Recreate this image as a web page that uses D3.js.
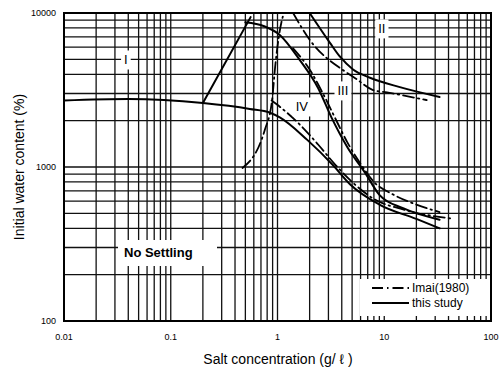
<!DOCTYPE html>
<html>
<head>
<meta charset="utf-8">
<script src="https://cdn.jsdelivr.net/npm/d3@7"></script>
<style>
  body { margin: 0; background: #fff; }
  svg { display: block; }
</style>
</head>
<body>
<div id="chart"></div>
<script>
// salt concentration (g/l), initial water content (%)
const studyLower = [[0.01, 2700], [0.04, 2760], [0.2, 2600], [0.55, 2380], [0.85, 2250], [1.05, 2100],
  [1.9, 1500], [3.3, 1030], [4.8, 770], [9, 570], [20, 460], [33, 400]];
const studyRise = [[0.2, 2600], [0.56, 9400]];
const studyFall = [[0.5, 8700], [0.75, 8200], [1.05, 7200], [1.6, 5000], [2.4, 3260], [3.2, 2100],
  [4.5, 1350], [6.6, 920], [9, 660], [15, 540], [33, 455]];
const studyUpper = [[2.0, 10000], [3.1, 6400], [3.85, 5200], [5.1, 4300], [7.35, 3800], [14, 3300], [33, 2850]];

const imaiRise = [[0.47, 985], [0.76, 1740], [0.89, 2720], [0.95, 4460], [1.1, 9000], [1.15, 10000]];
const imaiLower = [[0.88, 2700], [1.1, 2400], [1.6, 1900], [2.4, 1400], [3.5, 1030], [5, 800], [8, 620], [15, 530], [45, 460]];
const imaiMiddle = [[1.4, 5900], [2, 4300], [2.7, 2950], [3.5, 2050], [4.5, 1450], [6, 1050], [8, 800], [12, 665], [20, 570], [33, 510]];
const imaiUpper = [[1.4, 10000], [2, 6700], [4.1, 4260], [5.3, 3790], [7.85, 3160], [10.6, 3050], [25, 2720]];

const xTicks = [0.01, 0.1, 1, 10, 100];
const xTickLabels = ['0.01', '0.1', '1', '10', '100'];
const yTicks = [100, 1000, 10000];
const yTickLabels = ['100', '1000', '10000'];

const regionLabels = [
  { text: 'I', c: 0.038, w: 4875 },
  { text: 'II', c: 9.5, w: 7760 },
  { text: 'III', c: 4.1, w: 3070 },
  { text: 'IV', c: 1.69, w: 2415 }
];

const width = 502, height = 374;
const svg = d3.select('#chart').append('svg')
  .attr('width', width).attr('height', height)
  .style('font-family', "'Liberation Sans', Arial, sans-serif");

const x = d3.scaleLog().domain([0.01, 100]).range([64, 491]);
const y = d3.scaleLog().domain([100, 10000]).range([321, 13]);

// log grid
const xGrid = [], yGrid = [];
for (let e = -2; e < 2; e++) for (let m = 1; m < 10; m++) xGrid.push(m * Math.pow(10, e));
for (let e = 2; e < 4; e++) for (let m = 1; m < 10; m++) yGrid.push(m * Math.pow(10, e));

const grid = svg.append('g');
grid.selectAll('line.v').data(xGrid).enter().append('line')
  .attr('x1', d => x(d)).attr('x2', d => x(d))
  .attr('y1', y(10000)).attr('y2', y(100))
  .attr('stroke', '#111').attr('stroke-width', 1.3);
grid.selectAll('line.h').data(yGrid).enter().append('line')
  .attr('x1', x(0.01)).attr('x2', x(100))
  .attr('y1', d => y(d)).attr('y2', d => y(d))
  .attr('stroke', '#111').attr('stroke-width', 1.3);

// white boxes behind labels
function whiteBox(x0, y0, w, h) {
  svg.append('rect').attr('x', x0).attr('y', y0).attr('width', w).attr('height', h).attr('fill', '#fff');
}
whiteBox(118, 240, 99, 26);
whiteBox(360, 279, 129, 37);

const curve = d3.line().x(d => x(d[0])).y(d => y(d[1])).curve(d3.curveMonotoneX);

const curves = svg.append('g').attr('fill', 'none').attr('stroke', '#000').attr('stroke-linecap', 'round');
[studyLower, studyRise, studyFall, studyUpper].forEach(pts => {
  curves.append('path').attr('d', curve(pts)).attr('stroke-width', 2);
});
[imaiRise, imaiLower, imaiMiddle, imaiUpper].forEach(pts => {
  curves.append('path').attr('d', curve(pts)).attr('stroke-width', 1.8)
    .attr('stroke-dasharray', '11,4,1.5,4');
});

// region labels
regionLabels.forEach(r => {
  const t = svg.append('text').attr('x', x(r.c)).attr('y', y(r.w))
    .attr('text-anchor', 'middle').attr('dominant-baseline', 'middle')
    .attr('font-size', 13).text(r.text);
  const b = t.node().getBBox();
  svg.insert('rect', () => t.node())
    .attr('x', b.x - 3).attr('y', b.y - 2).attr('width', b.width + 6).attr('height', b.height + 4)
    .attr('fill', '#fff');
});

svg.append('text').attr('x', 124).attr('y', 257)
  .attr('font-size', 13).attr('font-weight', 'bold').text('No Settling');

// frame
svg.append('rect').attr('x', x(0.01)).attr('y', y(10000))
  .attr('width', x(100) - x(0.01)).attr('height', y(100) - y(10000))
  .attr('fill', 'none').attr('stroke', '#000').attr('stroke-width', 2);

// tick labels
svg.selectAll('text.xt').data(xTicks).enter().append('text')
  .attr('x', d => x(d)).attr('y', 340).attr('text-anchor', 'middle')
  .attr('font-size', 9)
  .text((d, i) => xTickLabels[i]);
svg.selectAll('text.yt').data(yTicks).enter().append('text')
  .attr('x', 56).attr('y', d => y(d) + 3).attr('text-anchor', 'end')
  .attr('font-size', 9)
  .text((d, i) => yTickLabels[i]);

// axis titles
svg.append('text').attr('x', 278).attr('y', 364).attr('text-anchor', 'middle')
  .attr('font-size', 14).text('Salt concentration  (g/ ℓ )');
svg.append('text').attr('transform', `translate(24,${(y(100) + y(10000)) / 2}) rotate(-90)`)
  .attr('text-anchor', 'middle').attr('font-size', 14).text('Initial water content (%)');

// legend
const legend = svg.append('g').attr('font-size', 12);
legend.append('line').attr('x1', 372).attr('x2', 409).attr('y1', 288).attr('y2', 288)
  .attr('stroke', '#000').attr('stroke-width', 1.8).attr('stroke-dasharray', '11,4,1.5,4');
legend.append('text').attr('x', 412).attr('y', 292).text('Imai(1980)');
legend.append('line').attr('x1', 372).attr('x2', 409).attr('y1', 303).attr('y2', 303)
  .attr('stroke', '#000').attr('stroke-width', 2);
legend.append('text').attr('x', 412).attr('y', 307).text('this study');
</script>
</body>
</html>
